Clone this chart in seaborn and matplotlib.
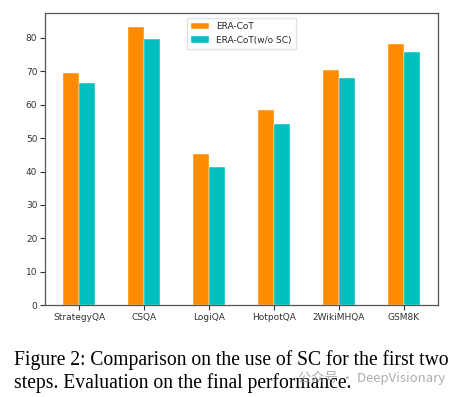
import numpy as np
import pandas as pd
import matplotlib
matplotlib.use('Agg')
import matplotlib.pyplot as plt
import seaborn as sns

# values
datasets = ['StrategyQA', 'CSQA', 'LogiQA', 'HotpotQA', '2WikiMHQA', 'GSM8K']
era_cot = [69.5, 83.1, 45.3, 58.5, 70.3, 78.1]
era_cot_no_sc = [66.4, 79.6, 41.3, 54.2, 68.0, 75.7]
methods = ['ERA-CoT', 'ERA-CoT(w/o SC)']

df = pd.DataFrame({
    'dataset': datasets * 2,
    'score': era_cot + era_cot_no_sc,
    'method': [methods[0]] * len(datasets) + [methods[1]] * len(datasets),
})

sns.set_style('ticks')
plt.rcParams['font.family'] = ['DejaVu Sans']

fig = plt.figure(figsize=(4.6, 3.97), dpi=100)
ax = fig.add_axes([45 / 460, 1 - 305.3 / 397, 393 / 460, 292.3 / 397])

sns.barplot(data=df, x='dataset', y='score', hue='method', order=datasets,
            hue_order=methods, palette=['#ff8c00', '#00bfbf'], width=0.5,
            saturation=1, edgecolor='white', linewidth=0.3, ax=ax)

ax.set_xlim(-0.525, 5.525)
ax.set_ylim(0, 87.4)
ax.set_yticks(range(0, 90, 10))
ax.set_xlabel('')
ax.set_ylabel('')
ax.tick_params(labelsize=6.5, length=3.5, width=0.8, colors='#333333', pad=2)
for s in ax.spines.values():
    s.set_color('#555555')
    s.set_linewidth(0.9)

ax.legend(loc='upper center', fontsize=6.5, frameon=True, fancybox=False,
          edgecolor='#dddddd', handlelength=2.0, borderpad=0.5)

# caption under the chart
cap_font = ['Liberation Serif', 'DejaVu Serif']
fig.text(14 / 460, 1 - 360 / 397, 'Figure 2: Comparison on the use of SC for the first two',
         family=cap_font, fontsize=14.1, color='black', va='center', ha='left')
fig.text(14 / 460, 1 - 383 / 397, 'steps. Evaluation on the final performance.',
         family=cap_font, fontsize=14.1, color='black', va='center', ha='left')
fig.text(445 / 460, 1 - 378 / 397, '公众号 · DeepVisionary',
         family=['Noto Sans CJK SC', 'DejaVu Sans'], fontsize=9.5, color='#999999',
         alpha=0.8, va='center', ha='right')

fig.savefig('out.png', dpi=100)
